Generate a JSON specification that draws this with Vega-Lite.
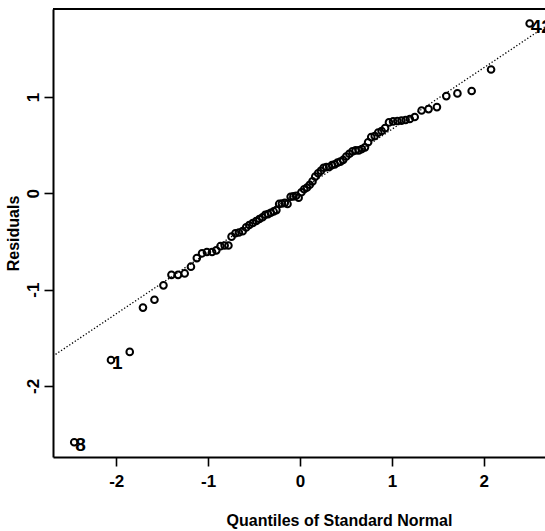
{
  "$schema": "https://vega.github.io/schema/vega-lite/v6.json",
  "width": 492,
  "height": 448,
  "autosize": {"type": "none"},
  "padding": {"left": 53, "top": 9, "right": 0, "bottom": 74},
  "background": "white",
  "config": {
    "view": {"stroke": null},
    "axis": {
      "grid": false, "domain": true, "domainColor": "black", "domainWidth": 2, "ticks": true, "tickColor": "black", "tickWidth": 1.6, "tickSize": 9,
      "labelFont": "Liberation Sans", "labelFontWeight": "bold", "labelFontSize": 17, "labelColor": "black",
      "titleFont": "Liberation Sans", "titleFontWeight": "bold", "titleFontSize": 16, "titleColor": "black"
    }
  },
  "datasets": {
    "ref": [{"q": -2.69, "r": -1.692}, {"q": 2.7, "r": 1.752}],
    "pts": [
      {"q": -2.457, "r": -2.586, "label": "8"},
      {"q": -2.057, "r": -1.732, "label": "1"},
      {"q": -1.853, "r": -1.647, "label": ""},
      {"q": -1.709, "r": -1.187, "label": ""},
      {"q": -1.584, "r": -1.105, "label": ""},
      {"q": -1.486, "r": -0.956, "label": ""},
      {"q": -1.399, "r": -0.847, "label": ""},
      {"q": -1.327, "r": -0.847, "label": ""},
      {"q": -1.255, "r": -0.832, "label": ""},
      {"q": -1.187, "r": -0.762, "label": ""},
      {"q": -1.123, "r": -0.673, "label": ""},
      {"q": -1.066, "r": -0.623, "label": ""},
      {"q": -1.013, "r": -0.609, "label": ""},
      {"q": -0.957, "r": -0.609, "label": ""},
      {"q": -0.911, "r": -0.592, "label": ""},
      {"q": -0.866, "r": -0.549, "label": ""},
      {"q": -0.82, "r": -0.542, "label": ""},
      {"q": -0.779, "r": -0.542, "label": ""},
      {"q": -0.745, "r": -0.45, "label": ""},
      {"q": -0.703, "r": -0.414, "label": ""},
      {"q": -0.665, "r": -0.407, "label": ""},
      {"q": -0.624, "r": -0.393, "label": ""},
      {"q": -0.586, "r": -0.354, "label": ""},
      {"q": -0.552, "r": -0.329, "label": ""},
      {"q": -0.514, "r": -0.308, "label": ""},
      {"q": -0.476, "r": -0.287, "label": ""},
      {"q": -0.442, "r": -0.266, "label": ""},
      {"q": -0.408, "r": -0.248, "label": ""},
      {"q": -0.378, "r": -0.223, "label": ""},
      {"q": -0.348, "r": -0.216, "label": ""},
      {"q": -0.318, "r": -0.202, "label": ""},
      {"q": -0.287, "r": -0.188, "label": ""},
      {"q": -0.257, "r": -0.174, "label": ""},
      {"q": -0.227, "r": -0.11, "label": ""},
      {"q": -0.197, "r": -0.106, "label": ""},
      {"q": -0.166, "r": -0.099, "label": ""},
      {"q": -0.136, "r": -0.11, "label": ""},
      {"q": -0.102, "r": -0.035, "label": ""},
      {"q": -0.072, "r": -0.032, "label": ""},
      {"q": -0.042, "r": -0.025, "label": ""},
      {"q": -0.015, "r": -0.046, "label": ""},
      {"q": 0.015, "r": 0.011, "label": ""},
      {"q": 0.045, "r": 0.043, "label": ""},
      {"q": 0.076, "r": 0.06, "label": ""},
      {"q": 0.106, "r": 0.089, "label": ""},
      {"q": 0.136, "r": 0.124, "label": ""},
      {"q": 0.166, "r": 0.174, "label": ""},
      {"q": 0.197, "r": 0.209, "label": ""},
      {"q": 0.227, "r": 0.234, "label": ""},
      {"q": 0.257, "r": 0.266, "label": ""},
      {"q": 0.287, "r": 0.273, "label": ""},
      {"q": 0.318, "r": 0.273, "label": ""},
      {"q": 0.348, "r": 0.294, "label": ""},
      {"q": 0.378, "r": 0.301, "label": ""},
      {"q": 0.408, "r": 0.319, "label": ""},
      {"q": 0.439, "r": 0.329, "label": ""},
      {"q": 0.469, "r": 0.347, "label": ""},
      {"q": 0.503, "r": 0.383, "label": ""},
      {"q": 0.537, "r": 0.411, "label": ""},
      {"q": 0.571, "r": 0.436, "label": ""},
      {"q": 0.605, "r": 0.446, "label": ""},
      {"q": 0.639, "r": 0.446, "label": ""},
      {"q": 0.673, "r": 0.46, "label": ""},
      {"q": 0.707, "r": 0.478, "label": ""},
      {"q": 0.741, "r": 0.531, "label": ""},
      {"q": 0.775, "r": 0.584, "label": ""},
      {"q": 0.813, "r": 0.595, "label": ""},
      {"q": 0.851, "r": 0.631, "label": ""},
      {"q": 0.888, "r": 0.648, "label": ""},
      {"q": 0.926, "r": 0.677, "label": ""},
      {"q": 0.968, "r": 0.737, "label": ""},
      {"q": 1.013, "r": 0.747, "label": ""},
      {"q": 1.059, "r": 0.751, "label": ""},
      {"q": 1.104, "r": 0.755, "label": ""},
      {"q": 1.149, "r": 0.762, "label": ""},
      {"q": 1.195, "r": 0.772, "label": ""},
      {"q": 1.248, "r": 0.793, "label": ""},
      {"q": 1.323, "r": 0.861, "label": ""},
      {"q": 1.399, "r": 0.875, "label": ""},
      {"q": 1.49, "r": 0.896, "label": ""},
      {"q": 1.592, "r": 1.01, "label": ""},
      {"q": 1.713, "r": 1.038, "label": ""},
      {"q": 1.868, "r": 1.063, "label": ""},
      {"q": 2.079, "r": 1.286, "label": ""},
      {"q": 2.499, "r": 1.764, "label": "42"}
    ]
  },
  "layer": [
    {
      "data": {"name": "ref"},
      "mark": {"type": "line", "clip": true, "color": "black", "strokeWidth": 1.3, "strokeDash": [1.3, 2]},
      "encoding": {
        "x": {
          "field": "q", "type": "quantitative",
          "scale": {"domain": [-2.688, 2.666], "nice": false, "zero": false},
          "axis": {"values": [-2, -1, 0, 1, 2], "labelExpr": "'' + datum.value", "labelPadding": 7, "titlePadding": 23, "titleX": 286, "titleAlign": "center", "title": "Quantiles of Standard Normal"}
        },
        "y": {
          "field": "r", "type": "quantitative",
          "scale": {"domain": [-2.739, 1.915], "nice": false, "zero": false},
          "axis": {"values": [-2, -1, 0, 1], "labelExpr": "'' + datum.value", "labelAngle": -90, "labelAlign": "center", "labelBaseline": "bottom", "labelPadding": 2, "titlePadding": 3, "title": "Residuals"}
        }
      }
    },
    {
      "data": {"name": "pts"},
      "mark": {"type": "point", "shape": "circle", "filled": false, "color": "black", "opacity": 1, "strokeWidth": 2, "size": 44, "clip": true},
      "encoding": {
        "x": {"field": "q", "type": "quantitative"},
        "y": {"field": "r", "type": "quantitative"}
      }
    },
    {
      "data": {"name": "pts"},
      "transform": [{"filter": "datum.label != ''"}],
      "mark": {"type": "text", "align": "left", "baseline": "middle", "dx": 1, "dy": 3, "font": "Liberation Sans", "fontWeight": "bold", "fontSize": 19, "color": "black", "clip": true},
      "encoding": {
        "x": {"field": "q", "type": "quantitative"},
        "y": {"field": "r", "type": "quantitative"},
        "text": {"field": "label"}
      }
    },
    {
      "data": {"values": [{}]},
      "mark": {"type": "rule", "color": "black", "strokeWidth": 2},
      "encoding": {"y": {"datum": 1.915, "type": "quantitative"}}
    }
  ]
}
